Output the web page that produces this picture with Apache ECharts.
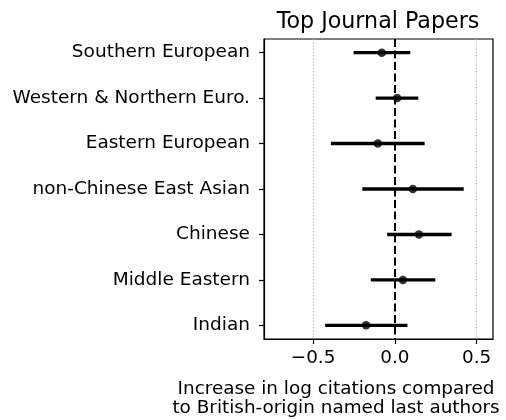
<!DOCTYPE html>
<html>
<head>
<meta charset="utf-8">
<script src="https://cdn.jsdelivr.net/npm/echarts@6/dist/echarts.min.js"></script>
<style>
  html, body { margin: 0; padding: 0; background: #fff; }
  #chart { width: 506px; height: 420px; }
</style>
</head>
<body>
<div id="chart"></div>
<script>
// Origin groups, top to bottom
const groups = ['Southern European', 'Western & Northern Euro.', 'Eastern European',
  'non-Chinese East Asian', 'Chinese', 'Middle Eastern', 'Indian'];
// Point estimates and confidence bounds (log citations)
const estimates = [-0.080, 0.014, -0.104, 0.110, 0.147, 0.049, -0.176];
const lower = [-0.252, -0.117, -0.391, -0.199, -0.047, -0.147, -0.426];
const upper = [0.094, 0.143, 0.182, 0.421, 0.347, 0.247, 0.077];
// Axis ticks
const xTicks = [-0.5, 0, 0.5];
const refLines = [-0.5, 0.5];
const zeroLine = 0;

const font = 'DejaVu Sans';
const rowIdx = groups.map((_, i) => i);

const chart = echarts.init(document.getElementById('chart'), null, { renderer: 'canvas' });

chart.setOption({
  animation: false,
  backgroundColor: '#fff',
  title: [
    {
      text: 'Top Journal Papers',
      left: 373, top: 6, textAlign: 'center',
      textStyle: { fontFamily: font, fontSize: 22.2, fontWeight: 'normal', color: '#000' }
    },
    {
      text: 'Increase in log citations compared\nto British-origin named last authors',
      left: 331, top: 375, textAlign: 'center',
      textStyle: { fontFamily: font, fontSize: 18.4, fontWeight: 'normal', color: '#000', lineHeight: 19 }
    }
  ],
  grid: {
    left: 264, right: 13, top: 39, bottom: 81,
    show: true, borderColor: '#000', borderWidth: 1.2, backgroundColor: 'transparent'
  },
  xAxis: {
    type: 'value', min: -0.8, max: 0.6,
    axisLine: { show: true, onZero: false, lineStyle: { color: '#000', width: 1.2 } },
    axisTick: { show: true, customValues: xTicks, length: 5, lineStyle: { color: '#000', width: 1.2 } },
    axisLabel: {
      customValues: xTicks, margin: 10, color: '#000', fontFamily: font, fontSize: 18.4,
      formatter: v => (v < 0 ? '\u2212' : '') + Math.abs(v).toFixed(1)
    },
    splitLine: { show: false }
  },
  yAxis: {
    type: 'value', min: -0.3, max: 6.3, inverse: true,
    axisLine: { show: true, onZero: false, lineStyle: { color: '#000', width: 1.2 } },
    axisTick: { show: true, customValues: rowIdx, length: 5, lineStyle: { color: '#000', width: 1.2 } },
    axisLabel: {
      customValues: rowIdx, margin: 14, color: '#000', fontFamily: font, fontSize: 18.5,
      padding: [2, 0, 0, 0],
      formatter: v => groups[Math.round(v)]
    },
    splitLine: { show: false }
  },
  series: [
    {
      // confidence intervals
      type: 'custom',
      data: groups.map((g, i) => [lower[i], upper[i], i]),
      encode: { x: [0, 1], y: 2 },
      renderItem: (params, api) => {
        const a = api.coord([api.value(0), api.value(2)]);
        const b = api.coord([api.value(1), api.value(2)]);
        return {
          type: 'line',
          shape: { x1: a[0], y1: a[1], x2: b[0], y2: b[1] },
          style: { stroke: '#000', lineWidth: 3.4 }
        };
      },
      z: 3
    },
    {
      // point estimates with reference lines
      type: 'scatter',
      data: groups.map((g, i) => [estimates[i], i]),
      symbol: 'circle', symbolSize: 8.5,
      itemStyle: { color: '#000' },
      z: 4,
      markLine: {
        silent: true, symbol: 'none', label: { show: false },
        data: [
          ...refLines.map(x => ({ xAxis: x, lineStyle: { color: '#b0b0b0', width: 1.2, type: [1.2, 2] } })),
          { xAxis: zeroLine, lineStyle: { color: '#000', width: 2, type: [8, 3.5] } }
        ]
      }
    }
  ]
});
</script>
</body>
</html>
